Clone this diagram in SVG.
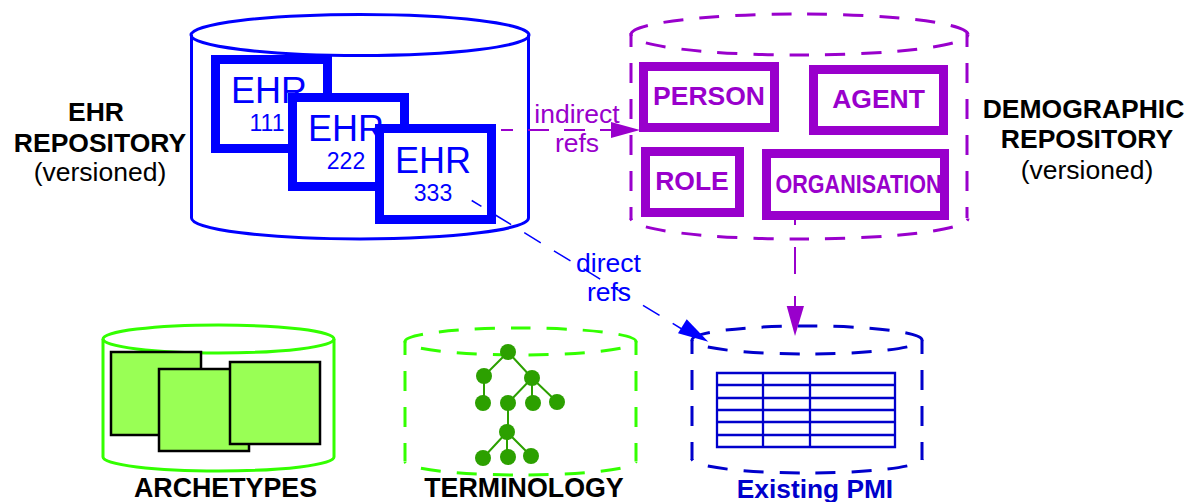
<svg xmlns="http://www.w3.org/2000/svg" width="1184" height="502" viewBox="0 0 1184 502">
<style>
text{font-family:"Liberation Sans",Arial,sans-serif;text-anchor:middle}
.cyl{fill:none;stroke-width:3}
.dash{stroke-dasharray:20 16}
.arcb{stroke-dashoffset:-18}
.side{stroke-dashoffset:6}
.b{font-weight:bold}
.lab{font-size:26.500px;fill:#000}
.ehr{fill:#fff;stroke:#00f;stroke-width:9}
.big{font-size:36px;fill:#00f}
.num{font-size:23px;fill:#00f}
.dem{fill:#fff;stroke:#90c;stroke-width:9}
.demt{font-size:26.500px;font-weight:bold;fill:#90c}
.arc{fill:#9f5;stroke:#000;stroke-width:2.500}
.tn{fill:#2ca000}
.tl{stroke:#2ca000;stroke-width:2;fill:none}
.tb{stroke:#00c;stroke-width:2.300;fill:none}
.refl{font-size:26.500px}
</style>
<rect width="1184" height="502" fill="#fff"/>
<g id="ehr-repository">
<path class="cyl" stroke="#00f" d="M191.500 35V218A168.500 21 0 0 0 528.500 218V35"/>
<ellipse class="cyl" stroke="#00f" cx="360" cy="35" rx="169" ry="20.500" fill="#fff"/>
<text class="b lab" x="96" y="121">EHR</text>
<text class="b lab" x="100" y="152">REPOSITORY</text>
<text class="lab" x="100" y="181">(versioned)</text>
</g>
<g id="ehr-111"><rect class="ehr" x="215.500" y="59.500" width="112" height="89"/><text class="big" x="269" y="103">EHR</text><text class="num" x="267" y="131">111</text></g>
<g id="ehr-222"><rect class="ehr" x="292.500" y="97.500" width="112" height="89"/><text class="big" x="346" y="141">EHR</text><text class="num" x="346" y="169">222</text></g>
<g id="ehr-333"><rect class="ehr" x="379.500" y="128.500" width="112" height="91"/><text class="big" x="433" y="173">EHR</text><text class="num" x="433" y="201">333</text></g>
<g id="demographic-repository">
<path class="cyl dash side" stroke="#90c" d="M631 33V220"/>
<path class="cyl dash side" stroke="#90c" d="M967 33V218"/>
<path class="cyl dash" stroke="#90c" d="M631 34.500A168.500 20.500 0 0 1 968 34.500"/>
<path class="cyl dash arcb" stroke="#90c" d="M631 34.500A168.500 20.500 0 0 0 968 34.500"/>
<path class="cyl dash arcb" stroke="#90c" d="M631 218.500A168.500 20.500 0 0 0 968 218.500"/>
<text class="b lab" x="1083.500" y="118">DEMOGRAPHIC</text>
<text class="b lab" x="1087" y="148">REPOSITORY</text>
<text class="lab" x="1087" y="179">(versioned)</text>
</g>
<g id="person"><rect class="dem" x="643.500" y="66.500" width="131" height="61"/><text class="demt" x="709" y="105">PERSON</text></g>
<g id="agent"><rect class="dem" x="813.500" y="69.500" width="130" height="61"/><text class="demt" x="878.500" y="108">AGENT</text></g>
<g id="role"><rect class="dem" x="645.500" y="151.500" width="94" height="61"/><text class="demt" x="692" y="190">ROLE</text></g>
<g id="organisation"><rect class="dem" x="766.500" y="153.500" width="178" height="62"/><text class="demt" x="858.500" y="193" textLength="166" lengthAdjust="spacingAndGlyphs">ORGANISATION</text></g>
<g id="archetypes">
<path class="cyl" stroke="#3f0" d="M103 339V457A115.500 14 0 0 0 334 457V339"/>
<ellipse class="cyl" stroke="#3f0" cx="218.500" cy="339" rx="115.500" ry="14" fill="#fff"/>
<rect class="arc" x="111" y="352" width="90" height="83"/>
<rect class="arc" x="159" y="369" width="90" height="82"/>
<rect class="arc" x="230" y="362" width="90" height="82"/>
<text class="b" font-size="26.800" x="225.500" y="497">ARCHETYPES</text>
</g>
<g id="terminology">
<path class="cyl dash side" stroke="#3f0" d="M405 341V461"/>
<path class="cyl dash side" stroke="#3f0" d="M636 341V461"/>
<path class="cyl dash" stroke="#3f0" d="M405 341.500A115.500 13.500 0 0 1 636 341.500"/>
<path class="cyl dash arcb" stroke="#3f0" d="M405 341.500A115.500 13.500 0 0 0 636 341.500"/>
<path class="cyl dash arcb" stroke="#3f0" d="M405 461.500A115.500 13.500 0 0 0 636 461.500"/>
<path class="tl" d="M508 352 484 376M508 352 532 378M484 376V403M532 378 508 403M532 378V403M532 378 557 402M508 403V432M507 432 483 458M507 432V457M507 432 531 456"/>
<g class="tn"><circle cx="508" cy="352" r="8"/><circle cx="484" cy="376" r="8"/><circle cx="532" cy="378" r="8"/><circle cx="483" cy="403" r="8"/><circle cx="508" cy="403" r="8"/><circle cx="533" cy="403" r="8"/><circle cx="557" cy="402" r="8"/><circle cx="507" cy="432" r="8"/><circle cx="483" cy="458" r="8"/><circle cx="508" cy="457" r="8"/><circle cx="531" cy="456" r="8"/></g>
<text class="b" font-size="26.800" x="524" y="497">TERMINOLOGY</text>
</g>
<g id="existing-pmi">
<path class="cyl dash side" stroke="#00c" d="M692 340V460"/>
<path class="cyl dash side" stroke="#00c" d="M922 340V460"/>
<path class="cyl dash" stroke="#00c" d="M692 340A115 14 0 0 1 922 340"/>
<path class="cyl dash arcb" stroke="#00c" d="M692 340A115 14 0 0 0 922 340"/>
<path class="cyl dash arcb" stroke="#00c" d="M692 459A115 14 0 0 0 922 459"/>
<path class="tb" d="M717 373H895V447H717ZM717 385H895M717 398H895M717 410H895M717 422H895M717 435H895M763 373V447M810 373V447"/>
<text class="b" font-size="26.300" fill="#00c" x="815" y="498">Existing PMI</text>
</g>
<g id="connectors">
<path d="M501 130H612" fill="none" stroke="#90c" stroke-width="2" stroke-dasharray="21 15" stroke-dashoffset="9"/>
<path d="M611 122 640 130 611 138Z" fill="#90c"/>
<path d="M795 220V307" fill="none" stroke="#90c" stroke-width="2" stroke-dasharray="27 22" stroke-dashoffset="22"/>
<path d="M786.700 306H804L795 336Z" fill="#90c"/>
<path d="M471.700 200.500 685 331" fill="none" stroke="#00f" stroke-width="1.500" stroke-dasharray="19.400 15.400" stroke-dashoffset="8"/>
<path d="M686.700 319.300 708.300 341.700 678 333.300Z" fill="#00f"/>
<text class="refl" fill="#90c" x="577" y="123">indirect</text>
<text class="refl" fill="#90c" x="577" y="152">refs</text>
<text class="refl" fill="#00f" x="608.500" y="272">direct</text>
<text class="refl" fill="#00f" x="609" y="301">refs</text>
</g>
</svg>
